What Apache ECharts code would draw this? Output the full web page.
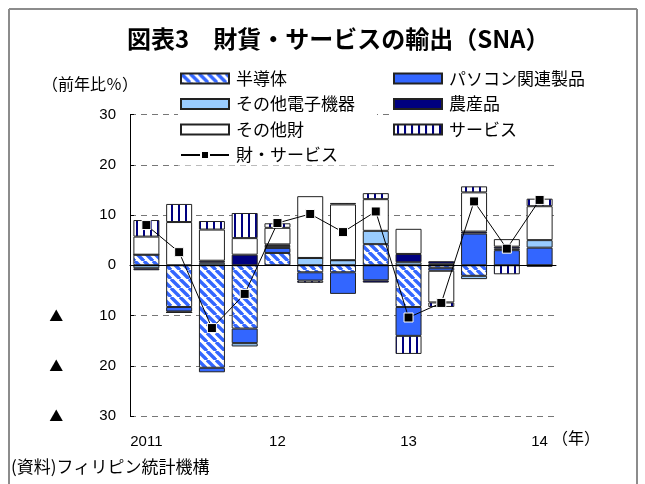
<!DOCTYPE html>
<html>
<head>
<meta charset="utf-8">
<script src="https://cdn.jsdelivr.net/npm/echarts@6/dist/echarts.min.js"></script>
<style>
  html, body { margin: 0; padding: 0; background: #fff; }
  #main { width: 645px; height: 484px; }
</style>
</head>
<body>
<div id="main"></div>
<script>
// 四半期（2011Q1〜2014Q1）
var quarters = ['2011', '', '', '', '12', '', '', '', '13', '', '', '', '14'];
var yTicks = ['30', '20', '10', '0', '▲ 10', '▲ 20', '▲ 30'];

// 寄与度（%ポイント）
var semi       = [2.1, -8.3, -20.4, -12.6, 2.45, -1.4, -1.4, 4.2, -8.3, -0.5, -2.1, 0, 0];
var pc         = [0, -0.9, -0.9, -2.9, 1.0, -1.65, -4.3, -3.0, -5.75, -0.6, 6.3, 3.0, 3.5];
var otherElec  = [-0.6, -0.2, 0.5, -0.66, 0.4, 1.45, 1.0, 2.65, 0.6, 0.3, -0.66, 0.3, 1.5];
var agri       = [-0.4, 0, 0.4, 2.1, 0.3, 0, 0, -0.45, 1.65, 0.5, 0.4, 0.4, -0.3];
var otherGoods = [3.6, 8.6, 6.2, 3.3, 3.3, 12.3, 11.1, 6.3, 5.0, -6.3, 7.8, 1.5, 6.75];
var services   = [3.3, 3.6, 1.7, 5.0, 0.9, -0.45, 0.3, 1.2, -3.6, -0.9, 1.2, -1.8, 1.5];
// 財・サービス（前年比％）
var total      = [8.0, 2.6, -12.5, -5.7, 8.4, 10.2, 6.6, 10.7, -10.4, -7.5, 12.7, 3.3, 13.0];

var JP = "'Noto Sans CJK JP', sans-serif";
var NUM = "'Liberation Sans', 'Noto Sans CJK JP', sans-serif";

// 斜線（半導体）
function hatch() {
  var c = document.createElement('canvas');
  c.width = c.height = 9;
  var g = c.getContext('2d');
  g.fillStyle = '#fff';
  g.fillRect(0, 0, 9, 9);
  g.strokeStyle = '#3366ff';
  g.lineWidth = 3.4;
  [-9, 0, 9].forEach(function (o) {
    g.beginPath();
    g.moveTo(o, 0);
    g.lineTo(o + 9, 9);
    g.stroke();
  });
  return c;
}
// 縦じま（サービス）
function vstripe() {
  var c = document.createElement('canvas');
  c.width = 7; c.height = 7;
  var g = c.getContext('2d');
  g.fillStyle = '#fff';
  g.fillRect(0, 0, 7, 7);
  g.fillStyle = '#000080';
  g.fillRect(3, 0, 2, 7);
  return c;
}

var myChart = echarts.init(document.getElementById('main'));

function barSeries(name, data, color) {
  return {
    name: name,
    type: 'bar',
    stack: 'x',
    barWidth: 26,
    data: data,
    itemStyle: { color: color, borderColor: '#222', borderWidth: 1 }
  };
}

var legendText = { fontSize: 17, fontFamily: JP, color: '#000', lineHeight: 17, padding: [0, 0, 0, 2] };

var frameLine = { stroke: '#8c8c8c', lineWidth: 2 };

var option = {
  animation: false,
  backgroundColor: '#fff',
  title: {
    text: '図表3　財貨・サービスの輸出（SNA）',
    left: 122,
    top: 22,
    textStyle: { fontSize: 24, fontWeight: 'bold', fontFamily: JP, color: '#000' }
  },
  graphic: [
    // 枠線
    { type: 'line', z: 100, silent: true, shape: { x1: 9, y1: 9, x2: 637, y2: 9 }, style: frameLine },
    { type: 'line', z: 100, silent: true, shape: { x1: 9, y1: 9, x2: 9, y2: 484 }, style: frameLine },
    { type: 'line', z: 100, silent: true, shape: { x1: 637, y1: 9, x2: 637, y2: 484 }, style: frameLine },
    {
      type: 'text', left: 42, top: 76,
      style: { text: '（前年比％）', fontSize: 16, fontFamily: JP, fill: '#000' }
    },
    {
      type: 'text', left: 552, top: 430,
      style: { text: '（年）', fontSize: 16, fontFamily: JP, fill: '#000' }
    },
    {
      type: 'text', left: 11, top: 458,
      style: { text: '(資料)フィリピン統計機構', fontSize: 17, fontFamily: JP, fill: '#000' }
    }
  ],
  legend: [
    {
      orient: 'vertical',
      left: 178, top: 68,
      itemWidth: 48, itemHeight: 10, itemGap: 8.5,
      backgroundColor: '#fff',
      padding: [2, 22, 2, 2],
      textStyle: legendText,
      data: [
        { name: '半導体', icon: 'rect' },
        { name: 'その他電子機器', icon: 'rect' },
        { name: 'その他財', icon: 'rect' },
        { name: '財・サービス' }
      ]
    },
    {
      orient: 'vertical',
      left: 391, top: 68,
      itemWidth: 48, itemHeight: 10, itemGap: 8.5,
      backgroundColor: '#fff',
      padding: [2, 2, 2, 2],
      textStyle: legendText,
      data: [
        { name: 'パソコン関連製品', icon: 'rect' },
        { name: '農産品', icon: 'rect' },
        { name: 'サービス', icon: 'rect' }
      ]
    }
  ],
  grid: { left: 130, right: 89, top: 114.5, bottom: 68 },
  xAxis: {
    type: 'category',
    data: quarters,
    axisLine: { lineStyle: { color: '#000', width: 1 } },
    axisTick: {
      inside: true, length: 5,
      lineStyle: { color: '#000' },
      interval: function (i) { return i > 0 && i % 4 === 0; }
    },
    axisLabel: { interval: 0, margin: 18, fontSize: 15, fontFamily: NUM, color: '#000' }
  },
  yAxis: {
    type: 'value',
    min: -30, max: 30, interval: 10,
    axisLine: { show: true, lineStyle: { color: '#000', width: 1 } },
    axisTick: { show: true, inside: true, length: 4, lineStyle: { color: '#000' } },
    splitLine: { show: true, lineStyle: { color: '#777', type: [6, 5], width: 1 } },
    axisLabel: {
      margin: 14, color: '#000',
      formatter: function (v) {
        var s = yTicks[(30 - v) / 10];
        if (s.indexOf('▲') === 0) {
          return '{t|▲}{n|' + s.replace('▲', '').trim() + '}';
        }
        return '{n|' + s + '}';
      },
      rich: {
        t: { width: 50, align: 'left', fontSize: 14, fontFamily: JP, color: '#000' },
        n: { fontSize: 15, fontFamily: NUM, color: '#000' }
      }
    }
  },
  series: [
    barSeries('半導体', semi, { image: hatch(), repeat: 'repeat' }),
    barSeries('パソコン関連製品', pc, '#3366ff'),
    barSeries('その他電子機器', otherElec, '#99ccff'),
    barSeries('農産品', agri, '#000080'),
    barSeries('その他財', otherGoods, '#ffffff'),
    barSeries('サービス', services, { image: vstripe(), repeat: 'repeat' }),
    {
      name: '財・サービス',
      type: 'line',
      data: total,
      z: 5,
      symbol: 'rect',
      symbolSize: 9,
      lineStyle: { color: '#000', width: 1 },
      itemStyle: { color: '#000', borderColor: '#fff', borderWidth: 1 },
      markLine: {
        silent: true,
        symbol: 'none',
        label: { show: false },
        lineStyle: { color: '#000', type: 'solid', width: 1 },
        data: [{ yAxis: 0 }]
      }
    }
  ]
};
myChart.setOption(option);
</script>
</body>
</html>
